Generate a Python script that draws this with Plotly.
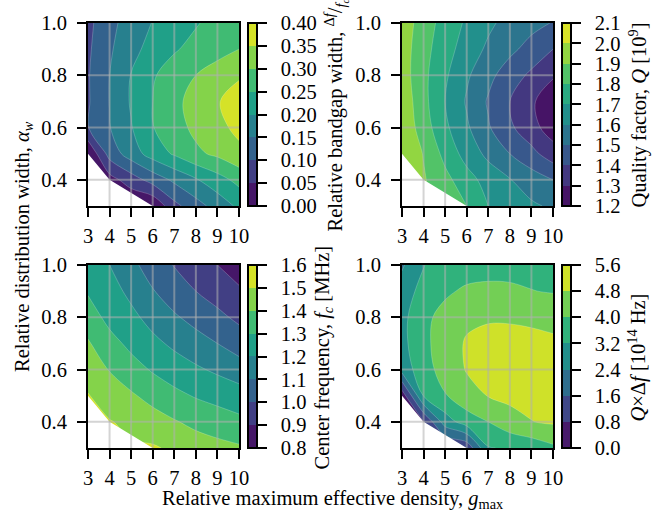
import plotly.graph_objects as go
from plotly.colors import sample_colorscale

# ---------------- data ----------------
g_max = [3, 4, 5, 6, 7, 8, 9, 10]                      # relative maximum effective density
alpha_w = [0.3, 0.4, 0.5, 0.6, 0.7, 0.8, 0.9, 1.0]     # relative distribution width

# rows follow alpha_w, columns follow g_max
# (the lower-left points lie outside the computed domain and are hidden by the blank region)
bandgap_width = [
    [0.000, 0.000, 0.000, 0.005, 0.085, 0.130, 0.170, 0.210],
    [0.000, 0.030, 0.075, 0.120, 0.160, 0.195, 0.230, 0.265],
    [0.002, 0.120, 0.175, 0.222, 0.256, 0.290, 0.310, 0.338],
    [0.098, 0.148, 0.197, 0.248, 0.280, 0.312, 0.337, 0.362],
    [0.095, 0.151, 0.205, 0.250, 0.287, 0.319, 0.347, 0.370],
    [0.096, 0.150, 0.202, 0.245, 0.273, 0.300, 0.323, 0.345],
    [0.092, 0.143, 0.185, 0.217, 0.245, 0.265, 0.282, 0.300],
    [0.087, 0.136, 0.172, 0.202, 0.224, 0.246, 0.266, 0.285],
]

quality_factor = [
    [1.970, 1.920, 1.860, 1.800, 1.700, 1.650, 1.615, 1.585],
    [1.970, 1.910, 1.830, 1.740, 1.660, 1.605, 1.550, 1.500],
    [1.990, 1.895, 1.770, 1.660, 1.575, 1.500, 1.430, 1.345],
    [1.980, 1.850, 1.720, 1.615, 1.510, 1.418, 1.335, 1.250],
    [1.970, 1.830, 1.700, 1.590, 1.490, 1.400, 1.314, 1.240],
    [1.950, 1.825, 1.715, 1.615, 1.527, 1.450, 1.380, 1.310],
    [1.950, 1.835, 1.740, 1.655, 1.582, 1.523, 1.465, 1.400],
    [1.960, 1.850, 1.760, 1.685, 1.620, 1.565, 1.530, 1.495],
]

center_frequency = [
    [1.520, 1.515, 1.510, 1.510, 1.485, 1.450, 1.430, 1.413],
    [1.515, 1.505, 1.480, 1.443, 1.408, 1.375, 1.350, 1.325],
    [1.505, 1.455, 1.413, 1.367, 1.325, 1.292, 1.267, 1.242],
    [1.460, 1.395, 1.340, 1.290, 1.250, 1.215, 1.183, 1.150],
    [1.410, 1.335, 1.275, 1.225, 1.180, 1.140, 1.100, 1.050],
    [1.350, 1.270, 1.225, 1.165, 1.113, 1.067, 1.023, 0.980],
    [1.290, 1.240, 1.175, 1.106, 1.047, 1.000, 0.960, 0.913],
    [1.240, 1.200, 1.125, 1.055, 0.995, 0.945, 0.900, 0.855],
]

q_times_df = [
    [0.10, 0.30, 0.60, 1.00, 3.15, 3.30, 3.50, 3.85],
    [0.10, 0.75, 2.80, 3.60, 4.00, 4.50, 4.78, 4.90],
    [0.30, 3.25, 3.95, 4.50, 4.83, 4.98, 5.02, 5.02],
    [2.70, 3.70, 4.30, 4.85, 5.05, 5.15, 5.18, 5.18],
    [2.95, 3.85, 4.30, 4.90, 5.10, 5.15, 5.10, 4.95],
    [2.95, 3.85, 4.20, 4.60, 4.70, 4.68, 4.60, 4.55],
    [2.75, 3.50, 3.90, 4.10, 4.12, 4.10, 4.02, 3.95],
    [2.30, 3.18, 3.50, 3.70, 3.80, 3.80, 3.75, 3.70],
]

# edge of the computed (valid) domain; the lower-left corner is left blank
valid_edge_g = [3, 4, 6]
valid_edge_alpha = [0.5, 0.4, 0.3]

x_ticks = [3, 4, 5, 6, 7, 8, 9, 10]
y_ticks = [0.4, 0.6, 0.8, 1.0]

# ---------------- styling ----------------
W, H = 669, 516
FONT = "Liberation Serif"
FS = 20.5
PAD = "\u200b\u00a0\u00a0"   # gap between colour-bar ticks and their labels


def px_x(p):
    return p / W


def px_y(p):
    return 1 - p / H


col_left = (88, 239)
col_right = (402, 553)
row_top = (23, 206)
row_bot = (265, 448)
cb_left_x = 248
cb_right_x = 562

panels = [
    dict(z=bandgap_width, start=0.0, end=0.40, size=0.05, fmt=".2f", cols=col_left, rows=row_top,
         cbx=cb_left_x, title_x=336,
         title="Relative bandgap width, <sup>Δ<i>f</i></sup>/<sub><i>f<sub>c</sub></i></sub>"),
    dict(z=quality_factor, start=1.2, end=2.1, size=0.1, fmt=".1f", cols=col_right, rows=row_top,
         cbx=cb_right_x, title_x=638,
         title="Quality factor, <i>Q</i> [10<sup>9</sup>]"),
    dict(z=center_frequency, start=0.8, end=1.6, size=0.1, fmt=".1f", cols=col_left, rows=row_bot,
         cbx=cb_left_x, title_x=323,
         title="Center frequency, <i>f<sub>c</sub></i> [MHz]"),
    dict(z=q_times_df, start=0.0, end=5.6, size=0.8, fmt=".1f", cols=col_right, rows=row_bot,
         cbx=cb_right_x, title_x=637,
         title="<i>Q</i>×Δ<i>f</i> [10<sup>14</sup> Hz]"),
]


def stepped_viridis(n):
    cols = sample_colorscale("Viridis", [(k + 0.5) / n for k in range(n)])
    scale = []
    for k, c in enumerate(cols):
        scale.append([k / n, c])
        scale.append([(k + 1) / n, c])
    return scale


fig = go.Figure()
shapes = []
annotations = []
layout_axes = {}
text_font = dict(family=FONT, size=FS, color="black")

for i, p in enumerate(panels):
    idx = "" if i == 0 else str(i + 1)
    xa, ya = "x" + idx, "y" + idx
    nb = int(round((p["end"] - p["start"]) / p["size"]))
    levels = [round(p["start"] + k * p["size"], 6) for k in range(nb + 1)]
    scale = stepped_viridis(nb)
    fig.add_trace(go.Contour(
        x=g_max, y=alpha_w, z=p["z"], xaxis=xa, yaxis=ya,
        autocontour=False,
        contours=dict(start=p["start"], end=p["end"], size=p["size"], coloring="fill", showlines=True),
        line=dict(width=0.6, color="rgba(255,255,255,0.35)", smoothing=1),
        colorscale=scale, showscale=False,
        hoverinfo="skip",
    ))
    # blank (not computed) region
    fig.add_trace(go.Scatter(
        x=[g_max[0]] + valid_edge_g + [g_max[0]],
        y=[alpha_w[0]] + valid_edge_alpha + [alpha_w[0]],
        xaxis=xa, yaxis=ya, mode="lines", fill="toself", fillcolor="white",
        line=dict(width=0, color="white"), hoverinfo="skip", showlegend=False,
    ))
    # colour bar, spanning exactly the contour levels
    cb_mid = (p["rows"][0] + p["rows"][1]) / 2
    fig.add_trace(go.Scatter(
        x=[g_max[0], g_max[0]], y=[alpha_w[-1], alpha_w[-1]], xaxis=xa, yaxis=ya,
        mode="markers", hoverinfo="skip", showlegend=False,
        marker=dict(
            color=[levels[0], levels[-1]], cmin=levels[0], cmax=levels[-1],
            colorscale=scale, opacity=0, size=1, showscale=True,
            colorbar=dict(
                x=px_x(p["cbx"]), xanchor="left", xpad=0, ypad=0,
                y=px_y(cb_mid), yanchor="middle",
                len=p["rows"][1] - p["rows"][0], lenmode="pixels", thickness=9,
                outlinewidth=2, outlinecolor="black",
                ticks="outside", ticklen=9, tickwidth=2, tickcolor="black",
                tickmode="array", tickvals=levels,
                ticktext=[PAD + format(v, p["fmt"]) for v in levels],
                tickfont=text_font,
            ),
        ),
    ))
    annotations.append(dict(
        text=p["title"], xref="paper", yref="paper", x=px_x(p["title_x"]), y=px_y(cb_mid + 1),
        textangle=-90, showarrow=False, font=text_font, xanchor="center", yanchor="middle",
    ))
    axis_common = dict(
        showline=True, mirror=True, linecolor="black", linewidth=2,
        ticks="outside", ticklen=9, tickwidth=2, tickcolor="black",
        showgrid=False, zeroline=False, layer="above traces",
        tickfont=text_font,
    )
    layout_axes["xaxis" + idx] = dict(
        axis_common, domain=[px_x(p["cols"][0]), px_x(p["cols"][1])],
        range=[g_max[0], g_max[-1]], tickvals=x_ticks, anchor=ya, ticklabelstandoff=1,
    )
    layout_axes["yaxis" + idx] = dict(
        axis_common, domain=[px_y(p["rows"][1]), px_y(p["rows"][0])],
        range=[alpha_w[0], alpha_w[-1]], tickvals=y_ticks, tickformat=".1f", anchor=xa,
        ticklabelstandoff=6,
    )
    grid_line = dict(color="rgba(176,176,176,0.55)", width=2)
    for gv in x_ticks[1:-1]:
        shapes.append(dict(type="line", xref=xa, yref=ya + " domain", x0=gv, x1=gv, y0=0, y1=1,
                           line=grid_line, layer="above"))
    for av in y_ticks[:-1]:
        shapes.append(dict(type="line", xref=xa + " domain", yref=ya, x0=0, x1=1, y0=av, y1=av,
                           line=grid_line, layer="above"))

annotations += [
    dict(text="Relative distribution width, <i>α<sub>w</sub></i>", xref="paper", yref="paper",
         x=px_x(24), y=px_y(247), textangle=-90, showarrow=False,
         font=text_font, xanchor="center", yanchor="middle"),
    dict(text="Relative maximum effective density, <i>g</i><sub>max</sub>", xref="paper", yref="paper",
         x=px_x(332), y=px_y(499), showarrow=False,
         font=text_font, xanchor="center", yanchor="middle"),
]

fig.update_layout(
    width=W, height=H, margin=dict(l=0, r=0, t=0, b=0, autoexpand=False),
    paper_bgcolor="white", plot_bgcolor="white", showlegend=False,
    shapes=shapes, annotations=annotations,
    font=text_font,
    **layout_axes,
)

fig.write_html(
    "out.html",
    config={"displayModeBar": False},
    post_script="document.body.style.margin='0px';document.body.style.overflow='hidden';",
)
